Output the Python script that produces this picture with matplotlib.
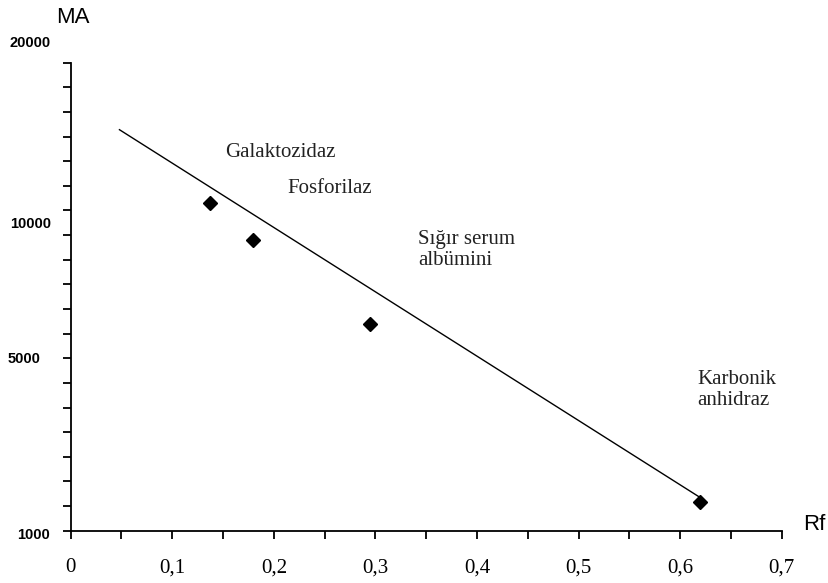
"""
Molecular weight (MA) vs. Rf calibration plot for the protein standards.
"""
import matplotlib.pyplot as plt
from matplotlib.ticker import MultipleLocator, FuncFormatter
from matplotlib.transforms import blended_transform_factory

# Marker standards: Rf and molecular weight (axis units)
rf = [0.137, 0.179, 0.295, 0.620]
ma = [14300, 12790, 9400, 2150]

# Calibration line end points
line_rf = [0.048, 0.620]
line_ma = [17280, 2340]

# Protein names and where they sit on the plot
names = ["Galaktozidaz", "Fosforilaz", "Sığır serum\nalbümini", "Karbonik\nanhidraz"]
name_rf = [0.152, 0.213, 0.342, 0.617]
name_ma = [16350, 14885, 12410, 6725]

# Labels written along the MA axis
y_label_text = ["20000", "10000", "5000", "1000"]
y_label_pos = [20800, 13460, 7960, 840]
y_label_left = [10, 10, 8, 17]  # px from the figure's left edge

W, H = 829, 583
fig = plt.figure(figsize=(W / 100, H / 100), dpi=100)
ax = fig.add_axes([70.7 / W, 1 - 530.7 / H, (781.7 - 70.7) / W, (530.7 - 62.7) / H])

ax.plot(line_rf, line_ma, color="black", lw=1.0)
ax.plot(rf, ma, linestyle="none", marker="D", color="black", ms=7)

ax.set_xlim(0, 0.7)
ax.set_ylim(1000, 20000)

for s in ["top", "right"]:
    ax.spines[s].set_visible(False)
for s in ["left", "bottom"]:
    ax.spines[s].set_linewidth(1.3)

ax.xaxis.set_major_locator(MultipleLocator(0.1))
ax.xaxis.set_minor_locator(MultipleLocator(0.05))
ax.xaxis.set_major_formatter(
    FuncFormatter(lambda v, _: "0" if abs(v) < 1e-9 else f"{v:.1f}".replace(".", ","))
)
ax.yaxis.set_major_locator(MultipleLocator(1000))
ax.yaxis.set_major_formatter(FuncFormatter(lambda v, _: ""))
ax.tick_params(which="both", direction="out", length=6, width=1.3, color="black")
ax.tick_params(axis="x", labelsize=15, pad=14)
for lbl in ax.get_xticklabels():
    lbl.set_fontfamily("Liberation Serif")

for txt, x, y in zip(names, name_rf, name_ma):
    ax.text(x, y, txt, fontsize=15, family="Liberation Serif",
            ha="left", va="center", linespacing=1.15, color="#222222")

tr = blended_transform_factory(fig.transFigure, ax.transData)
for txt, y, left in zip(y_label_text, y_label_pos, y_label_left):
    ax.text(left / W, y, txt, transform=tr, fontsize=10.5, fontweight="bold",
            family="Liberation Sans", ha="left", va="center", clip_on=False)

fig.text(73 / W, 1 - 17.5 / H, "MA", fontsize=16, family="Liberation Sans",
         ha="center", va="center")
fig.text(814 / W, 1 - 525 / H, "Rf", fontsize=16, family="Liberation Sans",
         ha="center", va="center")

fig.savefig("out.png", dpi=100)
